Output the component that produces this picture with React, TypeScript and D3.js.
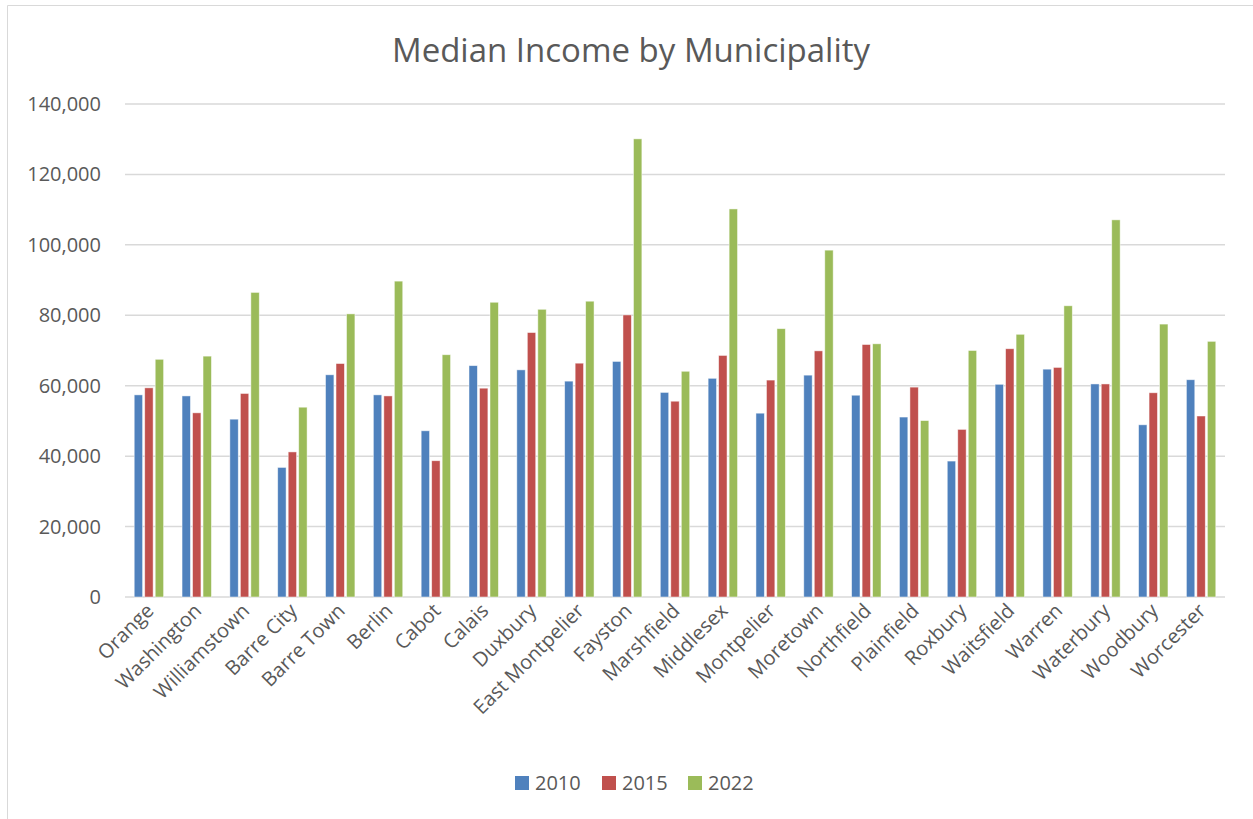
import React from "react";
import * as d3 from "d3";

const categories = ["Orange","Washington","Williamstown","Barre City","Barre Town","Berlin","Cabot","Calais","Duxbury","East Montpelier","Fayston","Marshfield","Middlesex","Montpelier","Moretown","Northfield","Plainfield","Roxbury","Waitsfield","Warren","Waterbury","Woodbury","Worcester"];
const values2010 = [57400,57100,50500,36800,63100,57400,47200,65700,64500,61300,66900,58100,62100,52200,63000,57300,51100,38600,60400,64700,60500,48900,61700];
const values2015 = [59400,52300,57800,41200,66300,57100,38700,59300,75100,66400,80100,55600,68600,61600,69900,71700,59600,47600,70500,65200,60500,58000,51400];
const values2022 = [67500,68400,86500,53900,80400,89700,68800,83700,81700,84000,130100,64100,110200,76200,98500,71900,50100,70000,74600,82700,107100,77500,72600];
const seriesNames = ["2010","2015","2022"];
const seriesColors = ["#4F81BD","#C0504D","#9BBB59"];
const yTicks = [0,20000,40000,60000,80000,100000,120000,140000];

export default function App() {
  const W = 1253, H = 819;
  const left = 125, right = 1225, top = 104, bottom = 597;
  const x = d3.scaleBand().domain(categories).range([left, right]);
  const y = d3.scaleLinear().domain([0, 140000]).range([bottom, top]);
  const series = [values2010, values2015, values2022];
  const barW = 8.4;
  const step = 10.5;
  const fmt = d3.format(",");
  const font = "'Open Sans', sans-serif";
  const txt = "#595959";
  const legendX = [515, 602, 688];
  return (
    <svg width={W} height={H} style={{ position: "absolute", left: 0, top: 0, background: "#fff" }} fontFamily={font}>
      <line x1={7.5} x2={W} y1={5.5} y2={5.5} stroke="#D9D9D9" />
      <line x1={7.5} x2={7.5} y1={5.5} y2={H} stroke="#D9D9D9" />
      <text x={631} y={62} textAnchor="middle" fontSize={33} fill={txt}>Median Income by Municipality</text>
      {yTicks.map((t) => (
        <g key={t}>
          <line x1={left} x2={right} y1={y(t)} y2={y(t)} stroke="#D9D9D9" strokeWidth={1.5} />
          <text x={101} y={y(t) + 7} textAnchor="end" fontSize={20} fill={txt}>{fmt(t)}</text>
        </g>
      ))}
      {categories.map((c, i) => {
        const cx = (x(c) as number) + x.bandwidth() / 2;
        return (
          <g key={c}>
            {series.map((s, k) => (
              <rect key={k} x={cx + (k - 1) * step - barW / 2} y={y(s[i])} width={barW} height={y(0) - y(s[i])} fill={seriesColors[k]} stroke="#fff" strokeOpacity={0.6} strokeWidth={0.8} />
            ))}
            <text transform={`translate(${cx + 6},${612}) rotate(-45)`} textAnchor="end" fontSize={20} fill={txt}>{c}</text>
          </g>
        );
      })}
      {seriesNames.map((n, k) => (
        <g key={n}>
          <rect x={legendX[k]} y={776} width={14} height={14} fill={seriesColors[k]} />
          <text x={legendX[k] + 20} y={790} fontSize={20} fill={txt}>{n}</text>
        </g>
      ))}
    </svg>
  );
}
